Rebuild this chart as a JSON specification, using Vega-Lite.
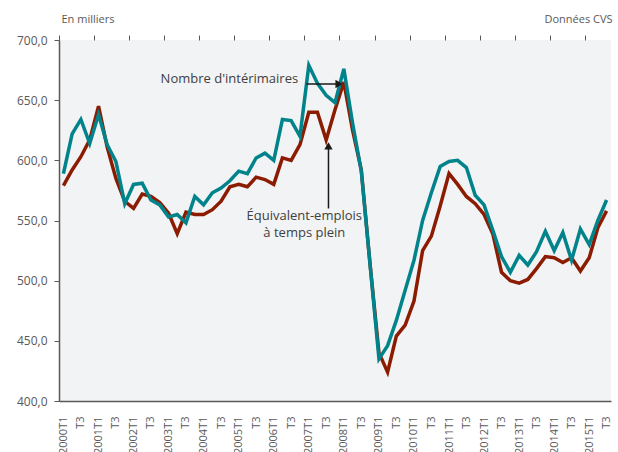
{
  "$schema": "https://vega.github.io/schema/vega-lite/v6.json",
  "width": 552,
  "height": 361,
  "autosize": "none",
  "padding": {"left": 59, "top": 40, "right": 7, "bottom": 51},
  "background": "white",
  "config": {
    "view": {"fill": "#f2f3f5", "stroke": null},
    "font": "Open Sans"
  },
  "datasets": {
    "series": [
      {"date": "2000-01-01", "interimaires": 589, "etp": 579},
      {"date": "2000-04-01", "interimaires": 622, "etp": 592},
      {"date": "2000-07-01", "interimaires": 634, "etp": 603},
      {"date": "2000-10-01", "interimaires": 614, "etp": 617},
      {"date": "2001-01-01", "interimaires": 638, "etp": 645},
      {"date": "2001-04-01", "interimaires": 613, "etp": 611},
      {"date": "2001-07-01", "interimaires": 599, "etp": 585},
      {"date": "2001-10-01", "interimaires": 564, "etp": 566},
      {"date": "2002-01-01", "interimaires": 580, "etp": 560},
      {"date": "2002-04-01", "interimaires": 581, "etp": 572},
      {"date": "2002-07-01", "interimaires": 567, "etp": 570},
      {"date": "2002-10-01", "interimaires": 563, "etp": 565},
      {"date": "2003-01-01", "interimaires": 553, "etp": 556},
      {"date": "2003-04-01", "interimaires": 555, "etp": 539},
      {"date": "2003-07-01", "interimaires": 548, "etp": 557},
      {"date": "2003-10-01", "interimaires": 570, "etp": 555},
      {"date": "2004-01-01", "interimaires": 563, "etp": 555},
      {"date": "2004-04-01", "interimaires": 573, "etp": 559},
      {"date": "2004-07-01", "interimaires": 577, "etp": 566},
      {"date": "2004-10-01", "interimaires": 583, "etp": 578},
      {"date": "2005-01-01", "interimaires": 591, "etp": 580},
      {"date": "2005-04-01", "interimaires": 589, "etp": 578},
      {"date": "2005-07-01", "interimaires": 602, "etp": 586},
      {"date": "2005-10-01", "interimaires": 606, "etp": 584},
      {"date": "2006-01-01", "interimaires": 600, "etp": 580},
      {"date": "2006-04-01", "interimaires": 634, "etp": 602},
      {"date": "2006-07-01", "interimaires": 633, "etp": 600},
      {"date": "2006-10-01", "interimaires": 620, "etp": 613},
      {"date": "2007-01-01", "interimaires": 679, "etp": 640},
      {"date": "2007-04-01", "interimaires": 664, "etp": 640},
      {"date": "2007-07-01", "interimaires": 654, "etp": 617},
      {"date": "2007-10-01", "interimaires": 648, "etp": 642},
      {"date": "2008-01-01", "interimaires": 676, "etp": 665},
      {"date": "2008-04-01", "interimaires": 631, "etp": 625},
      {"date": "2008-07-01", "interimaires": 591, "etp": 592},
      {"date": "2008-10-01", "interimaires": 513, "etp": 513},
      {"date": "2009-01-01", "interimaires": 435, "etp": 440},
      {"date": "2009-04-01", "interimaires": 446, "etp": 424},
      {"date": "2009-07-01", "interimaires": 467, "etp": 454},
      {"date": "2009-10-01", "interimaires": 492, "etp": 463},
      {"date": "2010-01-01", "interimaires": 517, "etp": 483},
      {"date": "2010-04-01", "interimaires": 550, "etp": 525},
      {"date": "2010-07-01", "interimaires": 573, "etp": 537},
      {"date": "2010-10-01", "interimaires": 595, "etp": 562},
      {"date": "2011-01-01", "interimaires": 599, "etp": 589},
      {"date": "2011-04-01", "interimaires": 600, "etp": 580},
      {"date": "2011-07-01", "interimaires": 594, "etp": 570},
      {"date": "2011-10-01", "interimaires": 571, "etp": 564},
      {"date": "2012-01-01", "interimaires": 563, "etp": 555},
      {"date": "2012-04-01", "interimaires": 542, "etp": 539},
      {"date": "2012-07-01", "interimaires": 520, "etp": 507},
      {"date": "2012-10-01", "interimaires": 507, "etp": 500},
      {"date": "2013-01-01", "interimaires": 521, "etp": 498},
      {"date": "2013-04-01", "interimaires": 513, "etp": 501},
      {"date": "2013-07-01", "interimaires": 524, "etp": 510},
      {"date": "2013-10-01", "interimaires": 541, "etp": 520},
      {"date": "2014-01-01", "interimaires": 525, "etp": 519},
      {"date": "2014-04-01", "interimaires": 540, "etp": 515},
      {"date": "2014-07-01", "interimaires": 517, "etp": 519},
      {"date": "2014-10-01", "interimaires": 543, "etp": 508},
      {"date": "2015-01-01", "interimaires": 530, "etp": 519},
      {"date": "2015-04-01", "interimaires": 550, "etp": 544},
      {"date": "2015-07-01", "interimaires": 567, "etp": 558}
    ],
    "arrows": [
      {"x": "2006-12-07", "x2": "2007-11-12", "y": 663.4, "y2": 663.4},
      {"x": "2007-07-25", "x2": "2007-07-25", "y": 560, "y2": 612}
    ],
    "heads": [
      {"x": "2007-11-12", "y": 663.4, "shape": "triangle-right"},
      {"x": "2007-07-25", "y": 612, "shape": "triangle-up"}
    ],
    "labelsRight": [
      {"x": "2006-09-12", "y": 667.3, "text": "Nombre d'intérimaires"}
    ],
    "labelsCenter": [
      {"x": "2006-11-15", "y": 553.5, "text": "Équivalent-emplois"},
      {"x": "2006-11-15", "y": 539.2, "text": "à temps plein"}
    ]
  },
  "resolve": {"axis": {"x": "independent", "y": "independent"}},
  "layer": [
    {
      "data": {"name": "series"},
      "mark": {"type": "line", "color": "#8b1c02", "strokeWidth": 3.5},
      "encoding": {
        "x": {
          "field": "date", "type": "temporal",
          "scale": {"type": "utc", "domain": [{"year": 1999, "month": 11, "date": 16, "utc": true}, {"year": 2015, "month": 8, "date": 16, "utc": true}]},
          "axis": {
            "title": null,
            "tickCount": {"interval": "month", "step": 6},
            "labelExpr": "utcmonth(datum.value) == 0 ? utcyear(datum.value) + 'T1' : 'T3'",
            "labelAngle": 270, "labelAlign": "right", "labelBaseline": "middle",
            "labelPadding": 15, "labelFontSize": 11, "labelColor": "#595959",
            "labelOverlap": false, "labelFlush": false, "labelBound": false,
            "ticks": false, "grid": false,
            "domainColor": "#595959", "domainWidth": 1.5
          }
        },
        "y": {
          "field": "etp", "type": "quantitative",
          "scale": {"domain": [400, 700], "nice": false, "zero": false},
          "axis": {
            "values": [400, 450, 500, 550, 600, 650, 700],
            "labelExpr": "replace(format(datum.value, '.1f'), '.', ',')",
            "labelFontSize": 12, "labelColor": "#595959", "labelPadding": 7,
            "tickSize": 5, "tickColor": "#595959", "tickWidth": 1,
            "domainColor": "#595959", "domainWidth": 1.5, "grid": false,
            "title": "En milliers", "titleAngle": 0, "titleAlign": "left", "titleBaseline": "middle",
            "titleX": 2, "titleY": -21, "titleFontSize": 11, "titleFontWeight": "normal", "titleColor": "#595959"
          }
        }
      }
    },
    {
      "data": {"name": "series"},
      "mark": {"type": "line", "color": "#00838a", "strokeWidth": 3.5},
      "encoding": {
        "x": {"field": "date", "type": "temporal", "scale": {"type": "utc", "domain": [{"year": 1999, "month": 11, "date": 16, "utc": true}, {"year": 2015, "month": 8, "date": 16, "utc": true}]}, "axis": null},
        "y": {
          "field": "interimaires", "type": "quantitative", "scale": {"domain": [400, 700], "nice": false, "zero": false},
          "axis": {
            "orient": "right", "domain": false, "ticks": false, "labels": false, "grid": false,
            "title": "Données CVS", "titleAngle": 0, "titleAlign": "right", "titleBaseline": "middle",
            "titleX": 1, "titleY": -21, "titleFontSize": 11, "titleFontWeight": "normal", "titleColor": "#595959"
          }
        }
      }
    },
    {
      "data": {"name": "arrows"},
      "mark": {"type": "rule", "color": "#1a1a1a", "strokeWidth": 1.5},
      "encoding": {
        "x": {
          "field": "x", "type": "temporal",
          "scale": {"type": "utc", "domain": [{"year": 1999, "month": 11, "date": 16, "utc": true}, {"year": 2015, "month": 8, "date": 16, "utc": true}]},
          "axis": {
            "title": null, "labels": false, "domain": false, "grid": false,
            "tickCount": {"interval": "year", "step": 1},
            "tickOffset": -4.4, "tickSize": 5, "tickColor": "#595959", "tickWidth": 1
          }
        },
        "x2": {"field": "x2"},
        "y": {"field": "y", "type": "quantitative", "scale": {"domain": [400, 700], "nice": false, "zero": false}, "axis": null},
        "y2": {"field": "y2"}
      }
    },
    {
      "data": {"name": "heads"},
      "mark": {"type": "point", "filled": true, "color": "#1a1a1a", "opacity": 1, "size": 70},
      "encoding": {
        "x": {"field": "x", "type": "temporal", "scale": {"type": "utc", "domain": [{"year": 1999, "month": 11, "date": 16, "utc": true}, {"year": 2015, "month": 8, "date": 16, "utc": true}]}, "axis": null},
        "y": {"field": "y", "type": "quantitative", "scale": {"domain": [400, 700], "nice": false, "zero": false}, "axis": null},
        "shape": {"field": "shape", "type": "nominal", "scale": null}
      }
    },
    {
      "data": {"name": "labelsRight"},
      "mark": {"type": "text", "fontSize": 13, "color": "#404040", "baseline": "middle", "align": "right"},
      "encoding": {
        "x": {"field": "x", "type": "temporal", "scale": {"type": "utc", "domain": [{"year": 1999, "month": 11, "date": 16, "utc": true}, {"year": 2015, "month": 8, "date": 16, "utc": true}]}, "axis": null},
        "y": {"field": "y", "type": "quantitative", "scale": {"domain": [400, 700], "nice": false, "zero": false}, "axis": null},
        "text": {"field": "text"}
      }
    },
    {
      "data": {"name": "labelsCenter"},
      "mark": {"type": "text", "fontSize": 13, "color": "#404040", "baseline": "middle", "align": "center"},
      "encoding": {
        "x": {"field": "x", "type": "temporal", "scale": {"type": "utc", "domain": [{"year": 1999, "month": 11, "date": 16, "utc": true}, {"year": 2015, "month": 8, "date": 16, "utc": true}]}, "axis": null},
        "y": {"field": "y", "type": "quantitative", "scale": {"domain": [400, 700], "nice": false, "zero": false}, "axis": null},
        "text": {"field": "text"}
      }
    }
  ]
}
